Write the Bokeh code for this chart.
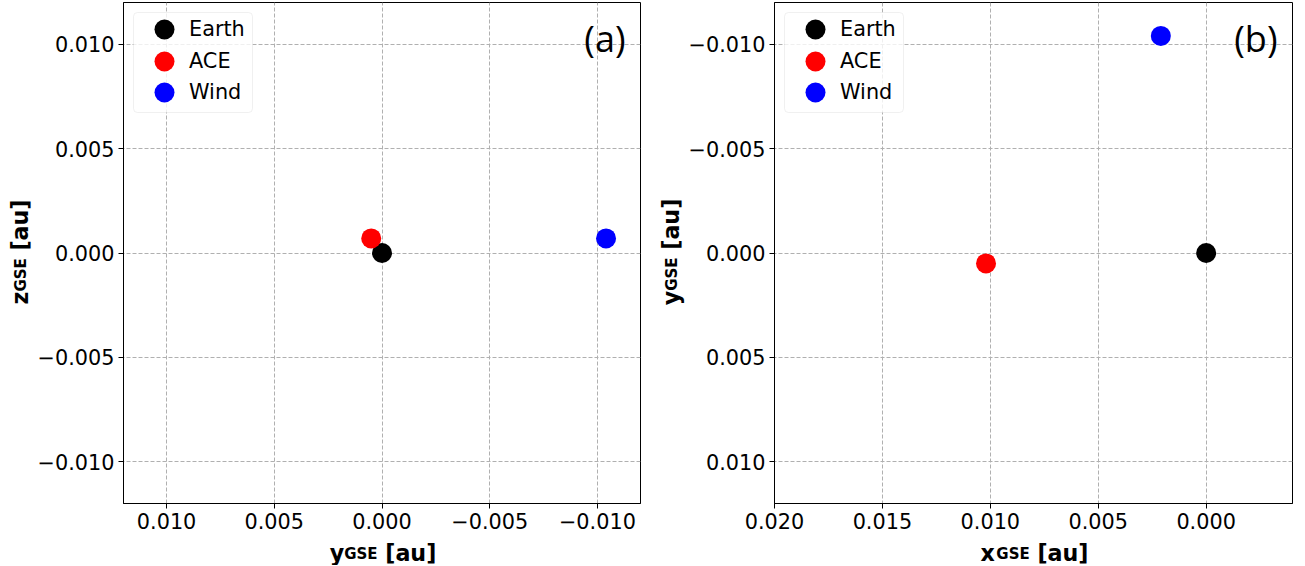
import math
from bokeh.plotting import figure
from bokeh.models import (Range1d, FixedTicker, CustomJSTickFormatter, Label,
                          Legend, LegendItem, BoxAnnotation)
from bokeh.layouts import row, column
from bokeh.embed import file_html
from bokeh.resources import INLINE

# ---------------- data ----------------
bodies = ["Earth", "ACE", "Wind"]
x_gse = [0.0, 0.0102, 0.0021]     # au
y_gse = [0.0, 0.0005, -0.0104]    # au
z_gse = [0.0, 0.0007, 0.0007]     # au
panel_tags = ["(a)", "(b)"]

ticks_a_x = [-0.010, -0.005, 0.0, 0.005, 0.010]
ticks_a_y = [-0.010, -0.005, 0.0, 0.005, 0.010]
ticks_b_x = [0.0, 0.005, 0.010, 0.015, 0.020]
ticks_b_y = [-0.010, -0.005, 0.0, 0.005, 0.010]

# ---------------- styles / layout ----------------
colors = ["#000000", "#ff0000", "#0000ff"]
FH = 501
TOP = 2
BOTTOM = 34
XLAB_H = 28
TOTAL_H = TOP + FH + BOTTOM + XLAB_H
FONT = "DejaVu Sans"
TICK_SIZE = "20.8px"
LAB_MAIN = 22.2
LAB_SUB = 15.0
LEGEND_ROW_CENTERS = [27, 59, 90]   # px below frame top
# DejaVu Sans Bold advance widths (em)
CW = {'y': 0.652, 'z': 0.582, 'x': 0.712, 'G': 0.821, 'S': 0.720, 'E': 0.683,
      ' ': 0.348, '[': 0.457, 'a': 0.675, 'u': 0.712, ']': 0.457}


def tw(s, size):
    return sum(CW[c] for c in s) * size


def dx(p, fw, px):
    r = p.x_range
    return r.start + (r.end - r.start) * px / fw


def dy(p, fh, py):
    r = p.y_range
    return r.end - (r.end - r.start) * py / fh


fmt_code = "return (tick < -1e-12 ? '\\u2212' : '') + Math.abs(tick).toFixed(3);"


def make_panel(xr, yr, xticks, yticks, fw, left_border, right_border):
    p = figure(frame_width=fw, frame_height=FH, x_range=xr, y_range=yr,
               output_backend="svg", toolbar_location=None,
               min_border_left=left_border, min_border_right=right_border,
               min_border_top=TOP, min_border_bottom=BOTTOM,
               background_fill_color="white", border_fill_color="white")
    p.outline_line_color = "black"
    p.outline_line_width = 1
    p.outline_line_alpha = 1
    p.xaxis.ticker = FixedTicker(ticks=xticks)
    p.yaxis.ticker = FixedTicker(ticks=yticks)
    for ax in (p.xaxis, p.yaxis):
        ax.formatter = CustomJSTickFormatter(code=fmt_code)
        ax.axis_line_color = "black"
        ax.major_tick_line_color = "black"
        ax.major_tick_out = 5
        ax.major_tick_in = 0
        ax.minor_tick_line_color = None
        ax.major_label_text_font = FONT
        ax.major_label_text_font_size = TICK_SIZE
        ax.major_label_text_color = "black"
        ax.axis_label = None
        ax.major_label_standoff = 4
    p.grid.grid_line_color = "#b0b0b0"
    p.grid.grid_line_dash = "4 2"
    p.grid.grid_line_width = 1
    return p


def label_fig(w, h):
    f = figure(frame_width=w, frame_height=h, min_border=0,
               x_range=Range1d(0, w), y_range=Range1d(0, h),
               x_axis_location=None, y_axis_location=None,
               toolbar_location=None, output_backend="svg",
               background_fill_color="white", border_fill_color="white")
    f.outline_line_color = None
    f.grid.visible = False
    return f


def add_points(p, xs, ys, fw):
    box = BoxAnnotation(left=dx(p, fw, 10), right=dx(p, fw, 129),
                        top=dy(p, FH, 10), bottom=dy(p, FH, 110),
                        fill_color="white", fill_alpha=0.8,
                        line_color="#cccccc", line_width=1, border_radius=4)
    p.add_layout(box)
    for i, name in enumerate(bodies):
        r = p.scatter(x=[xs[i]], y=[ys[i]], size=20, marker="circle",
                      fill_color=colors[i], line_color=None)
        leg = Legend(items=[LegendItem(label=name, renderers=[r])],
                     location=(16, FH - LEGEND_ROW_CENTERS[i] - 25),
                     glyph_width=50, glyph_height=50, padding=0, margin=0,
                     spacing=0, label_standoff=0,
                     label_text_font=FONT, label_text_font_size="20.8px",
                     label_text_color="black",
                     background_fill_alpha=0, border_line_alpha=0)
        p.add_layout(leg)


def add_tag(p, fw, tag):
    p.add_layout(Label(x=dx(p, fw, fw - 15), y=dy(p, FH, 36), text=tag,
                       text_font="Open Sans", text_font_size="36px",
                       text_color="black", text_align="right",
                       text_baseline="middle"))


def xlabel_fig(fw, letter):
    # this figure's frame is aligned with the panel's frame by the column
    f = label_fig(fw, XLAB_H)
    w1 = tw(letter, LAB_MAIN)
    w2 = tw("GSE", LAB_SUB)
    ws = tw(" ", LAB_MAIN)
    w3 = tw("[au]", LAB_MAIN)
    x0 = fw / 2 + 1 - (w1 + w2 + ws + w3) / 2
    base = 13
    common = dict(text_font=FONT, text_font_style="bold", text_color="black",
                  text_align="left", text_baseline="alphabetic")
    f.add_layout(Label(x=x0, y=base, text=letter,
                       text_font_size=f"{LAB_MAIN}px", **common))
    f.add_layout(Label(x=x0 + w1, y=base - 1, text="GSE",
                       text_font_size=f"{LAB_SUB}px", **common))
    f.add_layout(Label(x=x0 + w1 + w2 + ws, y=base, text="[au]",
                       text_font_size=f"{LAB_MAIN}px", **common))
    return f


def ylabel_fig(width, base_x, letter):
    f = label_fig(width, TOTAL_H)
    w1 = tw(letter, LAB_MAIN)
    w2 = tw("GSE", LAB_SUB)
    ws = tw(" ", LAB_MAIN)
    w3 = tw("[au]", LAB_MAIN)
    center_y = TOTAL_H - (TOP + FH / 2) + 1
    y0 = center_y - (w1 + w2 + ws + w3) / 2
    common = dict(text_font=FONT, text_font_style="bold", text_color="black",
                  text_align="left", text_baseline="alphabetic",
                  angle=math.pi / 2)
    f.add_layout(Label(x=base_x, y=y0, text=letter,
                       text_font_size=f"{LAB_MAIN}px", **common))
    f.add_layout(Label(x=base_x + 1, y=y0 + w1, text="GSE",
                       text_font_size=f"{LAB_SUB}px", **common))
    f.add_layout(Label(x=base_x, y=y0 + w1 + w2 + ws, text="[au]",
                       text_font_size=f"{LAB_MAIN}px", **common))
    return f


# ---------------- panel (a): y-z plane ----------------
FW1 = 517
L1, R1 = 88, 17
p1 = make_panel(Range1d(0.012, -0.012), Range1d(-0.012, 0.012),
                ticks_a_x, ticks_a_y, FW1, L1, R1)
add_points(p1, y_gse, z_gse, FW1)
add_tag(p1, FW1, panel_tags[0])
xl1 = xlabel_fig(FW1, "y")
yl1 = ylabel_fig(34, 19, "z")

# ---------------- panel (b): x-y plane ----------------
FW2 = 518
L2, R2 = 86, 5
p2 = make_panel(Range1d(0.020, -0.004), Range1d(0.012, -0.012),
                ticks_b_x, ticks_b_y, FW2, L2, R2)
add_points(p2, x_gse, y_gse, FW2)
add_tag(p2, FW2, panel_tags[1])
xl2 = xlabel_fig(FW2, "x")
yl2 = ylabel_fig(28, 13, "y")

layout = row(yl1, column(p1, xl1), yl2, column(p2, xl2))
open("out.html", "w").write(file_html(layout, INLINE))
